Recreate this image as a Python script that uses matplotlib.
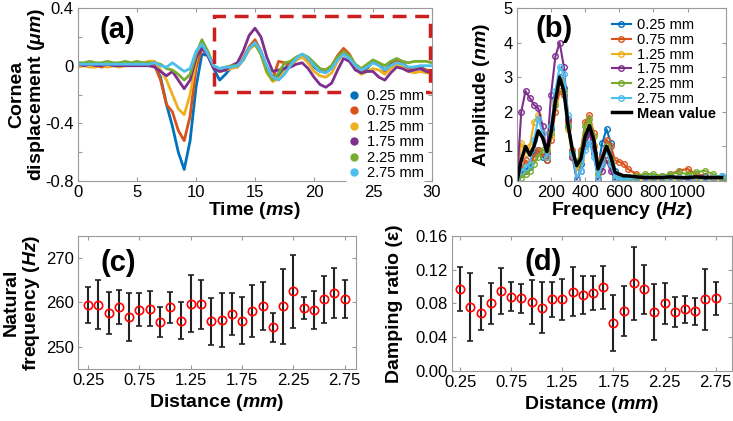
import numpy as np
import matplotlib.pyplot as plt
from matplotlib.lines import Line2D
from matplotlib.patches import Rectangle

plt.rcParams['font.family'] = ['Liberation Sans', 'DejaVu Sans']
plt.rcParams['mathtext.fontset'] = 'custom'
plt.rcParams['mathtext.rm'] = 'Liberation Sans'
plt.rcParams['mathtext.it'] = 'Liberation Sans:italic'
plt.rcParams['mathtext.bf'] = 'Liberation Sans:bold'
plt.rcParams['mathtext.bfit'] = 'Liberation Sans:bold:italic'

colors = ['#0072BD', '#D95319', '#EDB120', '#7E2F8E', '#77AC30', '#4DBEEE']
labels = ['0.25 mm', '0.75 mm', '1.25 mm', '1.75 mm', '2.25 mm', '2.75 mm']

# ---- (a) displacement vs time, 0..30 ms every 0.5 ms
time_ms = np.arange(0, 30.01, 0.5)
disp_025 = [0.01, 0.01, 0.0, 0.01, 0.0, 0.0, 0.01, 0.0, 0.0, 0.0, 0.01, 0.0, 0.0,
            0.0, -0.08, -0.27, -0.42, -0.6, -0.72, -0.52, -0.15,
            0.08, 0.07, -0.02, -0.1, -0.06, -0.01, -0.01, 0.04,
            0.12, 0.17, 0.1, -0.02, -0.08, -0.07, -0.02, 0.02,
            0.05, 0.07, 0.04, -0.01, -0.04, -0.04, -0.01, 0.06,
            0.1, 0.07, 0.0, -0.04, -0.02, 0.03, 0.01, -0.03,
            0.01, 0.04, 0.02, -0.02, -0.01, -0.01, -0.03, -0.04]
disp_075 = [0.0, 0.01, 0.0, 0.0, -0.01, 0.0, 0.0, 0.0, 0.01, 0.0, 0.0, 0.0, 0.01,
            0.0, -0.1, -0.27, -0.32, -0.45, -0.52, -0.35, -0.02,
            0.12, 0.08, 0.0, -0.04, -0.03, -0.01, 0.0, 0.05,
            0.13, 0.18, 0.1, -0.03, -0.09, 0.03, 0.02, 0.0,
            0.04, 0.07, 0.05, 0.0, -0.03, -0.03, 0.0, 0.07,
            0.12, 0.08, 0.0, -0.04, -0.01, 0.03, 0.01, -0.04,
            0.0, 0.04, 0.02, -0.02, -0.02, -0.02, -0.03, -0.04]
disp_125 = [-0.01, 0.0, -0.01, -0.01, 0.0, -0.01, 0.0, -0.01, 0.0, 0.0, 0.0, 0.02, 0.03,
            0.03, -0.03, -0.1, -0.2, -0.3, -0.34, -0.2, 0.03,
            0.15, 0.1, -0.01, -0.04, -0.03, -0.02, -0.01, 0.04,
            0.11, 0.15, 0.08, -0.05, -0.11, -0.09, -0.04, 0.0,
            0.04, 0.06, 0.02, -0.04, -0.07, -0.08, -0.05, 0.03,
            0.08, 0.05, -0.02, -0.06, -0.04, -0.02, -0.03, -0.06,
            -0.02, 0.01, -0.01, -0.04, -0.05, -0.04, -0.05, -0.05]
disp_175 = [0.01, 0.0, 0.01, 0.0, 0.0, 0.01, 0.0, 0.0, 0.0, 0.0, 0.0, 0.0, 0.0,
            -0.01, -0.04, -0.07, -0.04, -0.1, -0.16, -0.1, 0.05,
            0.12, 0.07, -0.02, -0.04, -0.03, 0.0, 0.02, 0.1,
            0.21, 0.26, 0.2, 0.06, -0.04, -0.03, -0.02, -0.01,
            0.01, 0.02, -0.02, -0.08, -0.13, -0.15, -0.12, -0.03,
            0.05, 0.03, -0.03, -0.05, -0.04, -0.04, -0.08, -0.1,
            -0.05, -0.01, -0.02, -0.04, -0.03, -0.02, -0.04, -0.05]
disp_225 = [0.02, 0.02, 0.03, 0.02, 0.02, 0.03, 0.02, 0.02, 0.03, 0.02, 0.03, 0.02, 0.02,
            0.02, 0.01, -0.02, -0.03, -0.06, -0.1, -0.06, 0.08,
            0.18, 0.1, 0.0, -0.02, -0.01, 0.0, 0.0, 0.04,
            0.12, 0.15, 0.08, -0.04, -0.1, -0.05, 0.02, 0.03,
            0.06, 0.08, 0.06, 0.02, -0.02, -0.03, 0.0, 0.06,
            0.1, 0.07, 0.01, -0.02, 0.01, 0.04, 0.02, 0.0,
            0.03, 0.05, 0.03, 0.02, 0.03, 0.03, 0.03, 0.02]
disp_275 = [0.01, 0.01, 0.01, 0.01, 0.01, 0.01, 0.01, 0.01, 0.01, 0.01, 0.01, 0.01, 0.01,
            0.02, 0.0, -0.01, 0.02, -0.01, -0.04, -0.02, 0.1,
            0.15, 0.08, 0.0, -0.02, -0.01, -0.01, 0.0, 0.04,
            0.12, 0.16, 0.1, 0.0, -0.08, -0.1, -0.06, 0.0,
            0.05, 0.08, 0.05, 0.0, -0.04, -0.05, -0.02, 0.04,
            0.08, 0.05, 0.0, -0.03, -0.01, 0.02, 0.0, -0.03,
            0.0, 0.02, 0.01, -0.01, -0.01, 0.0, 0.0, 0.0]

# ---- (b) amplitude spectra
freq_hz = list(range(0, 651, 25)) + list(range(700, 1201, 50))
amp_025 = [0, 0.2, 0.3, 0.4, 0.8, 0.9, 0.7, 0.6, 1.5, 2.4, 3.0, 2.7, 1.6, 0.8, 0.4, 0.5,
           1.1, 1.4, 1.0, 0.4, 1.1, 1.5, 1.1, 0.3, 0.1, 0.1, 0.1,
           0.1, 0.08, 0.1, 0.1, 0.12, 0.1, 0.1, 0.1, 0.12, 0.1, 0.15]
amp_075 = [0, 0.3, 0.6, 0.5, 0.7, 0.9, 0.8, 0.6, 1.2, 2.0, 2.6, 2.5, 1.7, 0.9, 0.45, 0.9,
           1.7, 1.9, 1.4, 0.5, 0.7, 1.2, 1.0, 0.6, 0.55, 0.5, 0.35,
           0.2, 0.15, 0.1, 0.15, 0.2, 0.3, 0.35, 0.2, 0.15, 0.1, 0.1]
amp_125 = [0, 1.1, 0.8, 1.0, 1.7, 1.9, 1.4, 0.7, 1.3, 2.3, 2.9, 2.6, 1.5, 0.7, 0.3, 0.6,
           1.3, 1.6, 1.0, 0.2, 0.5, 0.9, 0.5, 0.05, 0.0, 0.05, 0.0,
           0.05, 0.03, 0.05, 0.05, 0.03, 0.05, 0.05, 0.03, 0.05, 0.05, 0.05]
amp_175 = [0, 2.0, 2.6, 2.4, 2.2, 2.1, 1.6, 0.8, 2.5, 3.6, 4.0, 3.3, 1.8, 0.7, 0.05, 0.3,
           1.0, 1.4, 0.8, 0.05, 0.3, 0.6, 0.3, 0.05, 0.05, 0.05, 0.05,
           0.1, 0.12, 0.08, 0.1, 0.15, 0.1, 0.05, 0.1, 0.15, 0.1, 0.1]
amp_225 = [0, 0.1, 0.2, 0.3, 0.5, 0.7, 0.9, 0.9, 1.4, 2.2, 2.9, 2.6, 1.6, 0.8, 0.5, 0.8,
           1.6, 1.8, 1.3, 0.2, 0.6, 1.0, 0.6, 0.1, 0.05, 0.1, 0.1,
           0.15, 0.2, 0.2, 0.15, 0.2, 0.25, 0.2, 0.25, 0.3, 0.2, 0.1]
amp_275 = [0, 0.3, 0.4, 0.5, 1.2, 1.8, 1.4, 0.7, 1.6, 2.6, 3.3, 3.1, 1.9, 0.8, 0.1, 0.3,
           0.9, 1.1, 0.7, 0.1, 0.5, 0.9, 0.5, 0.1, 0.05, 0.05, 0.05,
           0.1, 0.08, 0.1, 0.1, 0.08, 0.1, 0.1, 0.1, 0.08, 0.1, 0.15]
amp_mean = [0, 0.6, 1.0, 0.75, 1.0, 1.45, 1.25, 0.85, 1.4, 2.3, 3.0, 2.6, 1.6, 0.9, 0.45, 0.65,
            1.3, 1.6, 1.2, 0.35, 0.65, 1.0, 0.7, 0.25, 0.2, 0.15, 0.15,
            0.12, 0.1, 0.1, 0.1, 0.12, 0.1, 0.1, 0.12, 0.1, 0.1, 0.1]

# ---- (c), (d) natural frequency and damping ratio vs distance
distance = np.round(np.arange(0.25, 2.751, 0.1), 2)
nat_freq = [259.5, 259.5, 257.6, 259.0, 256.7, 258.4, 258.6, 255.6, 258.9, 255.9,
            259.7, 259.6, 255.8, 256.0, 257.4, 255.9, 258.1, 259.2, 254.4, 259.1,
            262.5, 258.8, 258.4, 260.7, 262.2, 260.7]
nat_freq_err = [4.1, 5.5, 4.8, 3.9, 5.4, 3.8, 4.0, 3.4, 3.5, 4.1,
                6.4, 5.5, 5.3, 6.1, 4.8, 5.3, 5.9, 5.5, 3.3, 8.4,
                8.2, 2.5, 4.3, 5.3, 5.6, 4.3]
damping = [0.097, 0.076, 0.069, 0.080, 0.095, 0.088, 0.086, 0.082, 0.075, 0.085,
           0.085, 0.094, 0.090, 0.092, 0.099, 0.057, 0.071, 0.104, 0.097, 0.070,
           0.080, 0.070, 0.073, 0.071, 0.085, 0.086]
damping_err = [0.026, 0.040, 0.020, 0.024, 0.027, 0.017, 0.017, 0.026, 0.030, 0.021,
               0.024, 0.029, 0.022, 0.020, 0.025, 0.033, 0.030, 0.043, 0.029, 0.033,
               0.024, 0.018, 0.016, 0.016, 0.036, 0.020]

fig = plt.figure(figsize=(7.33, 4.21), dpi=100)
ax_a = fig.add_axes([0.1064, 0.570, 0.483, 0.411])
ax_b = fig.add_axes([0.7053, 0.570, 0.285, 0.411])
ax_c = fig.add_axes([0.1064, 0.1235, 0.379, 0.316])
ax_d = fig.add_axes([0.6166, 0.1188, 0.382, 0.3207])

frame_col = '#9a9a9a'
for ax in (ax_a, ax_b, ax_c, ax_d):
    for s in ax.spines.values():
        s.set_color(frame_col)
        s.set_linewidth(0.8)
    ax.tick_params(direction='in', top=True, right=True, color=frame_col,
                   labelsize=12, length=3, pad=3)

lab_kw = dict(fontsize=14, fontweight='bold', linespacing=1.05)
tag_kw = dict(fontsize=21, fontweight='bold', va='center')

# (a)
series_a = [disp_025, disp_075, disp_125, disp_175, disp_225, disp_275]
for y, c in zip(series_a, colors):
    ax_a.plot(time_ms, y, color=c, lw=2)
ax_a.set_xlim(0, 30)
ax_a.set_ylim(-0.8, 0.4)
ax_a.set_xticks([0, 5, 10, 15, 20, 25, 30])
ax_a.set_yticks([-0.8, -0.6, -0.4, -0.2, 0, 0.2, 0.4])
ax_a.set_yticklabels(['-0.8', '', '-0.4', '', '0', '', '0.4'])
ax_a.add_patch(Rectangle((11.5, -0.18), 18.3, 0.525, fill=False, ec='#cc1f1f',
                         lw=2.5, ls=(0, (4, 2.5)), clip_on=False, zorder=5))
handles = [Line2D([], [], ls='none', marker='o', ms=5, color=c) for c in colors]
leg_a = ax_a.legend(handles, labels, loc='lower right', bbox_to_anchor=(0.99, -0.02),
                    frameon=True, facecolor='white', edgecolor='none', framealpha=1,
                    fontsize=10.5, handlelength=1.0, handletextpad=0.4,
                    labelspacing=0.1, borderaxespad=0.2, borderpad=0.1)
leg_a.set_zorder(6)
ax_a.set_xlabel('Time ($\\mathbfit{ms}$)', labelpad=0, **lab_kw)
ax_a.set_ylabel('Cornea\ndisplacement ($\\mathbfit{\\mu m}$)', **lab_kw)
ax_a.yaxis.set_label_coords(-0.088, 0.5)
ax_a.text(0.06, 0.87, '(a)', transform=ax_a.transAxes, **tag_kw)

# (b)
series_b = [amp_025, amp_075, amp_125, amp_175, amp_225, amp_275]
for y, c, l in zip(series_b, colors, labels):
    ax_b.plot(freq_hz, y, color=c, lw=1.5, marker='o', ms=4, mfc='none',
              mew=1.0, label=l)
ax_b.plot(freq_hz, amp_mean, color='black', lw=2.5, label='Mean value')
ax_b.set_xlim(0, 1225)
ax_b.set_ylim(0, 5)
ax_b.set_xticks([0, 200, 400, 600, 800, 1000])
ax_b.set_yticks([0, 1, 2, 3, 4, 5])
leg = ax_b.legend(loc='upper right', frameon=False, fontsize=10.5, handlelength=1.3,
                  handletextpad=0.4, labelspacing=0.05, borderaxespad=0.3)
leg.get_texts()[-1].set_fontweight('bold')
ax_b.set_xlabel('Frequency ($\\mathbfit{Hz}$)', labelpad=0, **lab_kw)
ax_b.set_ylabel('Amplitude ($\\mathbfit{nm}$)', **lab_kw)
ax_b.yaxis.set_label_coords(-0.12, 0.5)
ax_b.text(0.09, 0.88, '(b)', transform=ax_b.transAxes, **tag_kw)

dist_ticks = [0.25, 0.75, 1.25, 1.75, 2.25, 2.75]

# (c)
ax_c.errorbar(distance, nat_freq, yerr=nat_freq_err, fmt='o', color='red',
              mfc='none', ms=6, mew=1.2, ecolor='#222222', elinewidth=1.5,
              capsize=2.5, capthick=1.2)
ax_c.set_xlim(0.15, 2.86)
ax_c.set_ylim(245, 275)
ax_c.set_xticks(dist_ticks)
ax_c.set_xticklabels([f'{v:.2f}' for v in dist_ticks])
ax_c.set_yticks([250, 260, 270])
ax_c.set_xlabel('Distance ($\\mathbfit{mm}$)', labelpad=3, **lab_kw)
ax_c.set_ylabel('Natural\nfrequency ($\\mathbfit{Hz}$)', **lab_kw)
ax_c.yaxis.set_label_coords(-0.13, 0.5)
ax_c.text(0.08, 0.80, '(c)', transform=ax_c.transAxes, **tag_kw)

# (d)
ax_d.errorbar(distance, damping, yerr=damping_err, fmt='o', color='red',
              mfc='none', ms=6, mew=1.2, ecolor='#222222', elinewidth=1.5,
              capsize=2.5, capthick=1.2)
ax_d.set_xlim(0.17, 2.91)
ax_d.set_ylim(0, 0.16)
ax_d.set_xticks(dist_ticks)
ax_d.set_xticklabels([f'{v:.2f}' for v in dist_ticks])
ax_d.set_yticks([0, 0.04, 0.08, 0.12, 0.16])
ax_d.set_yticklabels(['0.00', '0.04', '0.08', '0.12', '0.16'])
ax_d.set_xlabel('Distance ($\\mathbfit{mm}$)', labelpad=3, **lab_kw)
ax_d.set_ylabel('Damping ratio (ε)', **lab_kw)
ax_d.yaxis.set_label_coords(-0.175, 0.5)
ax_d.text(0.26, 0.81, '(d)', transform=ax_d.transAxes, **tag_kw)

fig.savefig('out.png', dpi=100)
